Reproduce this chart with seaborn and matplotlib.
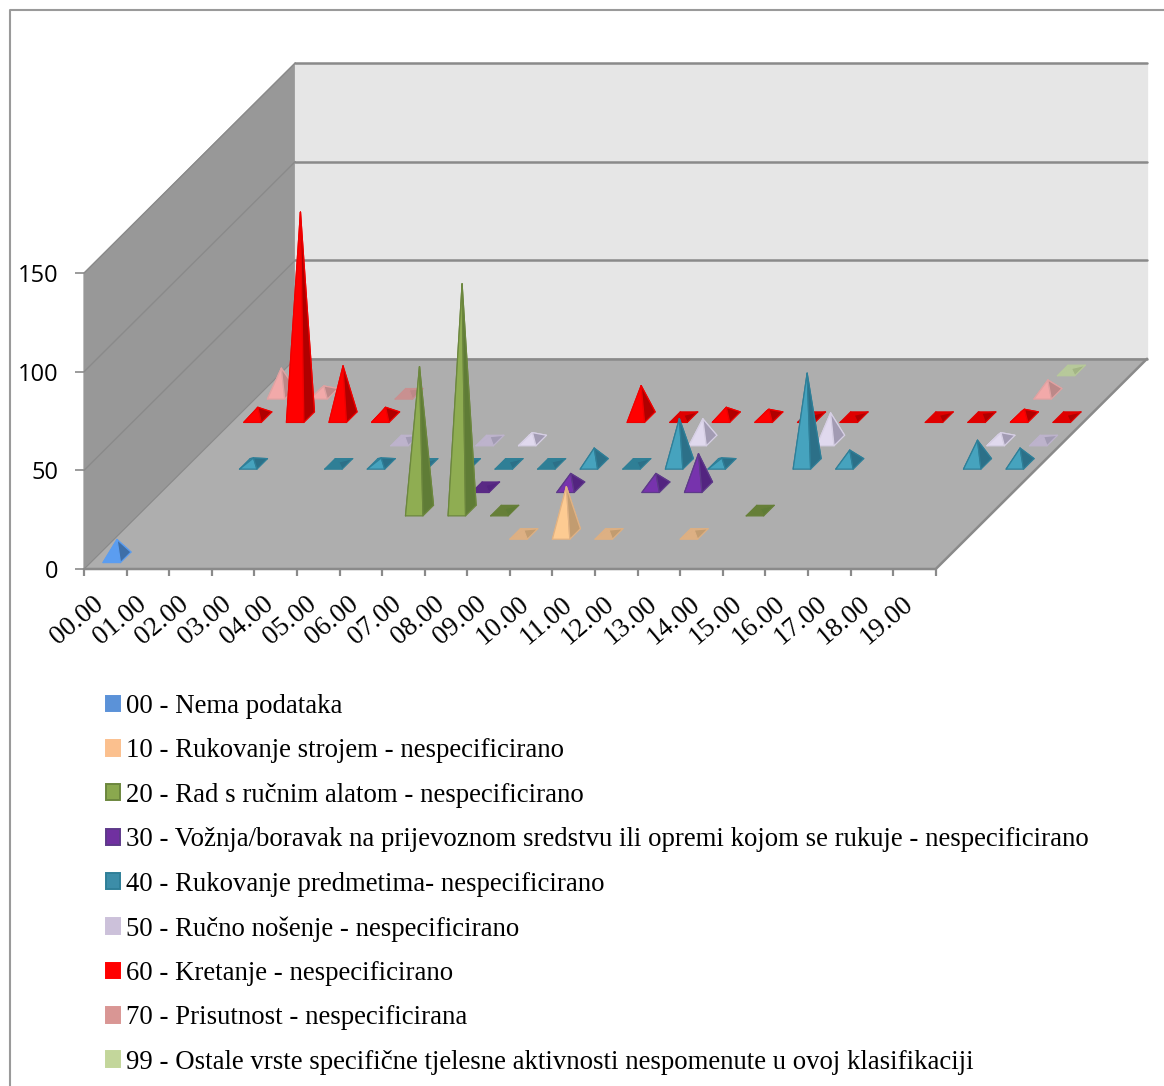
import matplotlib
matplotlib.use("Agg")
import matplotlib.pyplot as plt
from matplotlib.patches import Patch
from matplotlib.lines import Line2D
import seaborn as sns

hours = ["00.00", "01.00", "02.00", "03.00", "04.00", "05.00", "06.00", "07.00", "08.00", "09.00",
         "10.00", "11.00", "12.00", "13.00", "14.00", "15.00", "16.00", "17.00", "18.00", "19.00"]
series_names = [
    "00 - Nema podataka",
    "10 - Rukovanje strojem - nespecificirano",
    "20 - Rad s ručnim alatom - nespecificirano",
    "30 - Vožnja/boravak na prijevoznom sredstvu ili opremi kojom se rukuje - nespecificirano",
    "40 - Rukovanje predmetima- nespecificirano",
    "50 - Ručno nošenje - nespecificirano",
    "60 - Kretanje - nespecificirano",
    "70 - Prisutnost - nespecificirana",
    "99 - Ostale vrste specifične tjelesne aktivnosti nespomenute u ovoj klasifikaciji",
]
s00 = [9, 0, 0, 0, 0, 0, 0, 0, 0, 0, 0, 0, 0, 0, 0, 0, 0, 0, 0, 0]
s10 = [0, 0, 0, 0, 0, 0, 0, 0, 0, 2, 24, 2, 0, 2, 0, 0, 0, 0, 0, 0]
s20 = [0, 0, 0, 0, 0, 0, 73, 115, 1, 0, 0, 0, 0, 0, 1, 0, 0, 0, 0, 0]
s30 = [0, 0, 0, 0, 0, 0, 0, 1, 0, 7, 0, 7, 17, 0, 0, 0, 0, 0, 0, 0]
s40 = [0, 3, 0, 1, 3, 1, 1, 1, 1, 8, 1, 23, 3, 0, 46, 7, 0, 0, 12, 8]
s50 = [0, 0, 0, 0, 2, 0, 2, 4, 0, 0, 0, 11, 0, 0, 14, 0, 0, 0, 4, 2]
s60 = [5, 104, 26, 5, 0, 0, 0, 0, 0, 16, 1, 5, 4, 1, 1, 0, 1, 2, 4, 1]
s70 = [13, 4, 0, 2, 0, 0, 0, 0, 0, 0, 0, 0, 0, 0, 0, 0, 0, 0, 7, 0]
s99 = [0, 0, 0, 0, 0, 0, 0, 0, 0, 0, 0, 0, 0, 0, 0, 0, 0, 0, 1, 0]
all_series = [s00, s10, s20, s30, s40, s50, s60, s70, s99]
y_ticks = [0, 50, 100, 150]

legend_colors = ["#5B92D8", "#FBC08E", "#8AA84E", "#7030A0", "#3C8DA8", "#CCC1DA", "#FF0000", "#D99694", "#C3D69B"]
front_colors = ["#5B9DF0", "#FDCB92", "#8FAD52", "#7733AD", "#46A3BE", "#E0D9EE", "#FF0000", "#F2A9A9", "#C5D8A0"]
side_colors = ["#3E6FA8", "#C29C70", "#5F7C36", "#532480", "#2C7088", "#A29BB3", "#B00000", "#BC8888", "#A3B585"]
back_colors = ["#3A66A0", "#DDB083", "#667F38", "#5A2A85", "#2F7F96", "#BDB3CC", "#E00000", "#C99090", "#B7C99A"]
edge_colors = ["#5B9DF0", "#E0B284", "#6C873E", "#5E3A8A", "#2F7F98", "#D6CFE4", "#F00000", "#E0A2A2", "#B8CC94"]

N_SERIES = len(all_series)
DEPTH_CATS = 4.96
DEPTH_VALUE = 106.6
HALF_W = 0.205
HALF_D = 0.225
FLAT_MAX = 2

W, H = 1164, 1086
sns.set_theme(style="white")
plt.rcParams["font.family"] = ["Liberation Serif", "DejaVu Sans"]
palette = sns.color_palette(legend_colors)

fig = plt.figure(figsize=(W / 100, H / 100), dpi=100)
ax = fig.add_axes([84 / W, 1 - 569 / H, (1147 - 84) / W, (569 - 63) / H])
ax.set_xlim(0, len(hours) + DEPTH_CATS)
ax.set_ylim(0, y_ticks[-1] + DEPTH_VALUE)


def project(h, v, d):
    return h + d * DEPTH_CATS / N_SERIES, v + d * DEPTH_VALUE / N_SERIES


def face(points, color, edge=None, z=3):
    xy = [project(*p) for p in points]
    ax.fill([p[0] for p in xy], [p[1] for p in xy], facecolor=color,
            edgecolor=edge if edge else color, linewidth=0.9, clip_on=False, joinstyle="round", zorder=z)


def line(points, lw):
    xy = [project(*p) for p in points]
    ax.plot([p[0] for p in xy], [p[1] for p in xy], color="#8A8A8A", lw=lw, clip_on=False,
            solid_joinstyle="miter", zorder=2)


n = len(hours)
top = y_ticks[-1]
face([(0, 0, 0), (0, 0, N_SERIES), (0, top, N_SERIES), (0, top, 0)], "#989898", z=1)
face([(0, 0, N_SERIES), (n, 0, N_SERIES), (n, top, N_SERIES), (0, top, N_SERIES)], "#E6E6E6", z=1)
face([(0, 0, 0), (n, 0, 0), (n, 0, N_SERIES), (0, 0, N_SERIES)], "#AEAEAE", z=1)

for v in y_ticks:
    line([(0, v, 0), (0, v, N_SERIES)], 1.0)
    line([(0, v, N_SERIES), (n, v, N_SERIES)], 1.8)
line([(n, 0, N_SERIES), (n, 0, 0), (0, 0, 0)], 1.8)

for i in range(N_SERIES - 1, -1, -1):
    d = i + 0.5
    for h, val in enumerate(all_series[i]):
        if not val:
            continue
        c = h + 0.5
        fl = (c - HALF_W, 0, d - HALF_D)
        fr = (c + HALF_W, 0, d - HALF_D)
        br = (c + HALF_W, 0, d + HALF_D)
        bl = (c - HALF_W, 0, d + HALF_D)
        apex = (c, val, d)
        flat = val <= FLAT_MAX
        e = back_colors[i] if flat else edge_colors[i]
        face([bl, br, apex], back_colors[i], e)
        face([fl, bl, apex], back_colors[i] if flat else front_colors[i], e)
        face([fl, fr, apex], back_colors[i] if flat else front_colors[i], e)
        face([fr, br, apex], side_colors[i], e)

sns.despine(ax=ax, top=True, right=True, left=True, bottom=True)
ax.set_xticks(range(n + 1))
ax.set_xticklabels([])
ax.tick_params(axis="x", which="major", length=5, width=1.6, color="#8A8A8A", bottom=True)
for h, label in enumerate(hours):
    ax.text(h + 0.5, -11.5, label, rotation=40, rotation_mode="anchor", ha="right", va="top",
            color="black", family="Liberation Serif", fontsize=19.5, clip_on=False,
            transform=ax.transData + matplotlib.transforms.ScaledTranslation(-0.13, 0, fig.dpi_scale_trans))
ax.set_yticks(y_ticks)
ax.set_yticklabels([str(v) for v in y_ticks])
ax.tick_params(axis="y", length=6.5, width=1.2, color="#8A8A8A", left=True, pad=12,
               labelsize=17, labelcolor="black", labelfontfamily="Open Sans")
ax.grid(False)
ax.patch.set_alpha(0)

handles = [Patch(facecolor=palette[i], edgecolor=edge_colors[i] if i in (2, 3, 4) else palette[i],
                 linewidth=1.4) for i in range(N_SERIES)]
fig.legend(handles, series_names, loc="upper left", bbox_to_anchor=(106 / W, 1 - 694 / H),
           frameon=False, fontsize=19.27, borderpad=0, borderaxespad=0, handlelength=0.53,
           handleheight=0.53, handletextpad=0.23, labelspacing=0.725, labelcolor="black")

fig.add_artist(Line2D([10 / W, 10 / W, 1], [0, 1 - 10 / H, 1 - 10 / H], color="#9A9A9A", lw=1.5,
                      transform=fig.transFigure))

fig.savefig("out.png", dpi=100)
